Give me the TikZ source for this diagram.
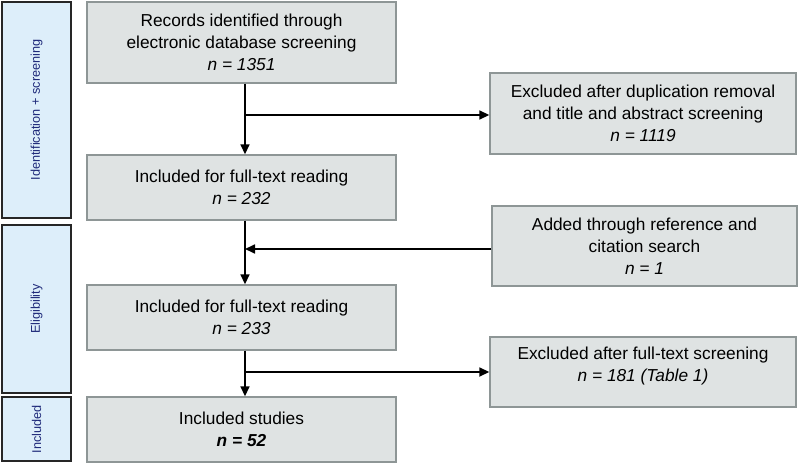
\documentclass[tikz,border=0pt]{standalone}
\usepackage{fontspec}
\setmainfont{Liberation Sans}
\usetikzlibrary{arrows.meta}
\definecolor{boxfill}{HTML}{DFE3E3}
\definecolor{boxline}{HTML}{8E9696}
\definecolor{sidefill}{HTML}{DDEEFA}
\definecolor{sidetext}{HTML}{1F2A7A}
\tikzset{
  gbox/.style={draw=boxline, fill=boxfill, line width=1.4pt, align=center, inner sep=0pt,
    font=\fontsize{17.3}{22}\selectfont},
  sidebar/.style={draw=black!85, fill=sidefill, line width=1.5pt, inner sep=0pt},
  sidelabel/.style={text=sidetext, rotate=90, font=\fontsize{12.7}{14}\selectfont},
  flow/.style={line width=1.7pt, black},
  arr/.style={flow, -{Triangle[length=10pt,width=9pt]}}
}
\begin{document}
\begin{tikzpicture}[x=1pt,y=-1pt]
\useasboundingbox (0,0) rectangle (798,463);
% side bars
\node[sidebar, minimum width=69, minimum height=216] (s1) at (36.5,110) {};
\node[sidelabel] at (s1.center) {Identification + screening};
\node[sidebar, minimum width=69, minimum height=168] (s2) at (36.5,309) {};
\node[sidelabel] at (s2.center) {Eligibility};
\node[sidebar, minimum width=69, minimum height=64] (s3) at (36.5,429) {};
\node[sidelabel] at (s3.center) {Included};
% main column
\node[gbox, minimum width=309, minimum height=81] (b1) at (241.5,42.5)
  {Records identified through\\electronic database screening\\\textit{n = 1351}};
\node[gbox, minimum width=309, minimum height=65] (b2) at (241.5,187.5)
  {Included for full-text reading\\\textit{n = 232}};
\node[gbox, minimum width=309, minimum height=65] (b3) at (241.5,317.5)
  {Included for full-text reading\\\textit{n = 233}};
\node[gbox, minimum width=309, minimum height=65] (b4) at (241.5,429.5)
  {Included studies\\\textbf{\textit{n = 52}}};
% right column
\node[gbox, minimum width=306, minimum height=81] (e1) at (643,113.5)
  {Excluded after duplication removal\\and title and abstract screening\\\textit{n = 1119}};
\node[gbox, minimum width=305, minimum height=80] (a1) at (644.5,246)
  {Added through reference and\\citation search\\\textit{n = 1}};
\node[gbox, minimum width=306, minimum height=70] (e2) at (643,372) {};
\node[align=center, inner sep=0pt, font=\fontsize{17.3}{22}\selectfont] (e2t) at (643,366)
  {Excluded after full-text screening\\\textit{n = 181 (Table 1)}};
% connectors
\coordinate (j1) at (245,115);
\coordinate (j2) at (245,249);
\coordinate (j3) at (245,372);
\draw[arr] (b1.south -| j1) -- (b2.north -| j1);
\draw[arr] (j1) -- (j1 -| e1.west);
\draw[arr] (b2.south -| j2) -- (b3.north -| j2);
\draw[arr] (a1.west |- j2) -- (j2);
\draw[arr] (b3.south -| j3) -- (b4.north -| j3);
\draw[arr] (j3) -- (j3 -| e2.west);
\end{tikzpicture}
\end{document}
